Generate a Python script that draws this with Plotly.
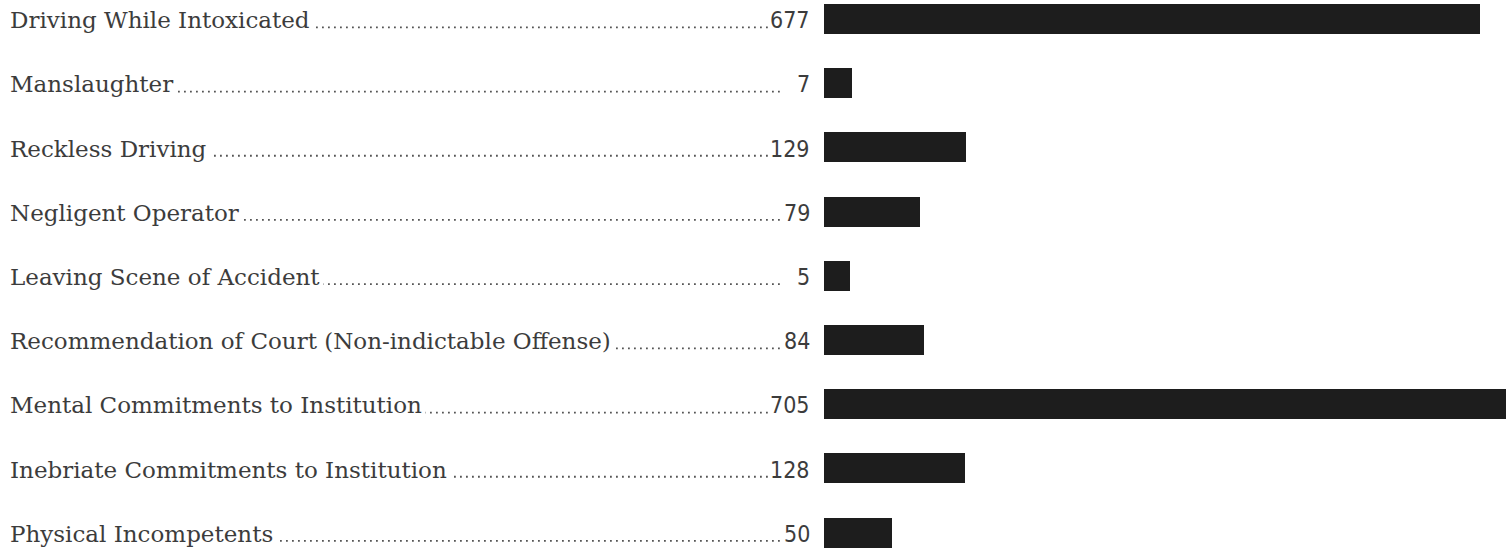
import plotly.graph_objects as go

categories = [
    "Driving While Intoxicated",
    "Manslaughter",
    "Reckless Driving",
    "Negligent Operator",
    "Leaving Scene of Accident",
    "Recommendation of Court (Non-indictable Offense)",
    "Mental Commitments to Institution",
    "Inebriate Commitments to Institution",
    "Physical Incompetents",
]
values = [677, 7, 129, 79, 5, 84, 705, 128, 50]

W, H = 1506, 548
BAR_BASE = -23
TEXT_COLOR = "#3c3c3c"
BAR_COLOR = "#1d1d1d"
LABEL_FONT = "DejaVu Serif"
NUM_FONT = "Liberation Sans Narrow, DejaVu Sans Condensed, Liberation Sans"

idx = list(range(len(categories)))

fig = go.Figure()
fig.add_trace(go.Bar(
    x=[v - BAR_BASE for v in values],
    y=idx,
    base=BAR_BASE,
    orientation="h",
    width=0.47,
    marker=dict(color=BAR_COLOR, line=dict(width=0)),
    hoverinfo="skip",
    showlegend=False,
))

shapes = []
annotations = []
for i, (cat, val) in enumerate(zip(categories, values)):
    # dotted leader line at text baseline
    shapes.append(dict(
        type="line", xref="paper", yref="y",
        x0=10 / W, x1=782 / W, y0=i + 0.13, y1=i + 0.13,
        line=dict(color="#555555", width=1.8, dash="1.8px,4.2px"),
        layer="below",
    ))
    annotations.append(dict(
        xref="paper", yref="y", x=6 / W, y=i + 0.02, xanchor="left", yanchor="middle",
        text=cat, showarrow=False, bgcolor="white", borderpad=3,
        font=dict(family=LABEL_FONT, size=23, color=TEXT_COLOR),
    ))
    annotations.append(dict(
        xref="paper", yref="y", x=812 / W, y=i + 0.02, xanchor="right", yanchor="middle",
        text=str(val), showarrow=False, bgcolor="white", borderpad=1,
        font=dict(family=NUM_FONT, size=23, color=TEXT_COLOR),
    ))

fig.update_layout(
    width=W, height=H,
    margin=dict(l=0, r=0, t=0, b=0),
    paper_bgcolor="white", plot_bgcolor="rgba(0,0,0,0)",
    xaxis=dict(domain=[824 / W, 1], range=[BAR_BASE, 705], visible=False, fixedrange=True),
    yaxis=dict(range=[8.24, -0.296], visible=False, fixedrange=True),
    shapes=shapes,
    annotations=annotations,
    bargap=0,
)

fig.write_html(
    "out.html",
    config={"displayModeBar": False},
    post_script="document.body.style.margin='0px';document.body.style.overflow='hidden';",
)
